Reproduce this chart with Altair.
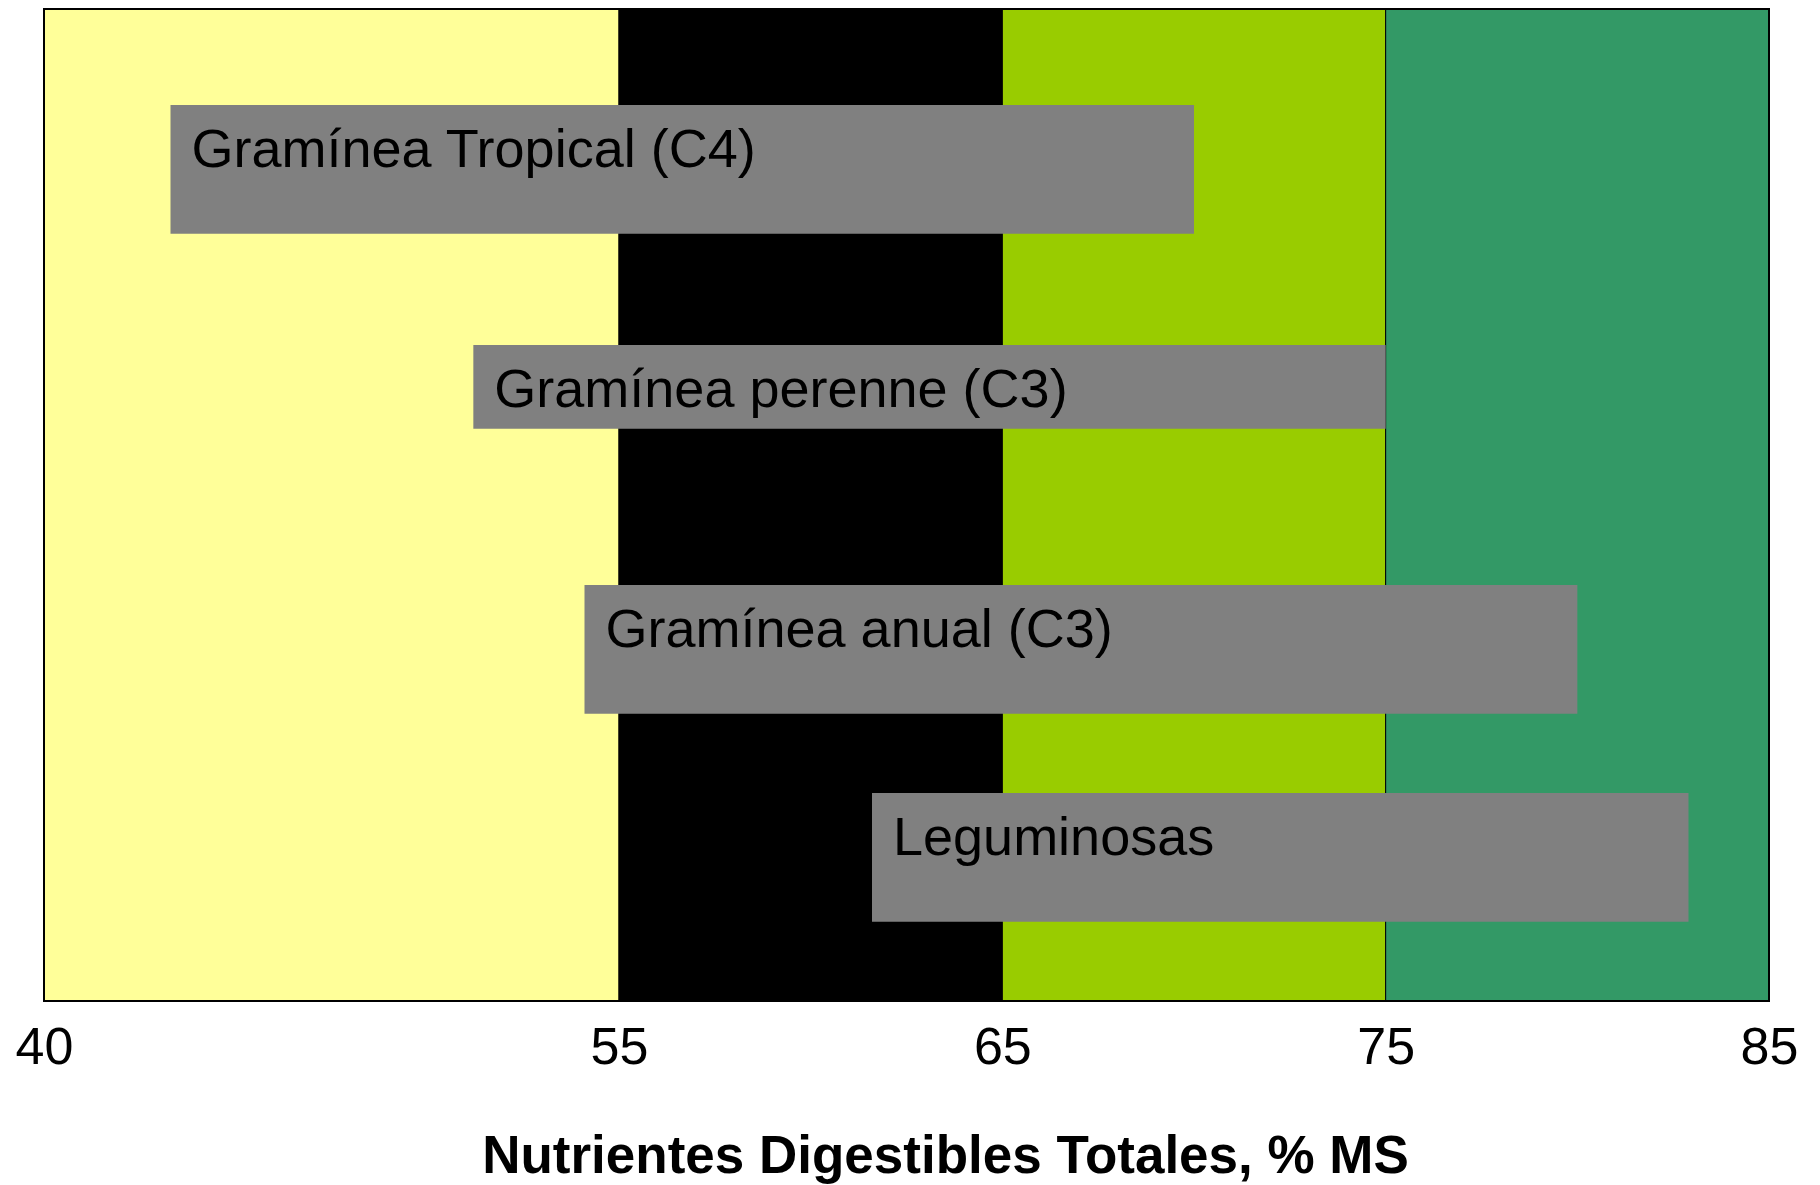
import altair as alt
import pandas as pd

# Background bands (NDT ranges)
band_start = [40, 55, 65, 75]
band_end = [55, 65, 75, 85]
band_color = ["#FFFF99", "#000000", "#99CC00", "#339966"]

# Forage ranges
forage = ["Gramínea Tropical (C4)", "Gramínea perenne (C3)", "Gramínea anual (C3)", "Leguminosas"]
ndt_min = [43.3, 51.2, 54.1, 61.6]
ndt_max = [70, 75, 80, 82.9]
row_top = [9.68, 33.87, 58.06, 79.03]
row_bottom = [22.65, 42.31, 71.04, 92.0]

tick_values = [40, 55, 65, 75, 85]

W, H = 1725, 992
FONT = "Liberation Sans"

bands = pd.DataFrame({"start": band_start, "end": band_end, "color": band_color})
bars = pd.DataFrame({"name": forage, "lo": ndt_min, "hi": ndt_max, "top": row_top, "bottom": row_bottom})

xscale = alt.Scale(domain=[40, 85], nice=False, zero=False)
yscale = alt.Scale(domain=[0, 100], nice=False, zero=False, reverse=True)

xaxis = alt.Axis(
    values=tick_values,
    title="Nutrientes Digestibles Totales, % MS",
    grid=False, domain=False, ticks=False, tickSize=0,
    labelFont=FONT, labelFontSize=52, labelColor="black",
    labelBaseline="alphabetic", labelPadding=62,
    labelFlush=False, labelOverlap=False,
    titleFont=FONT, titleFontSize=53, titleFontWeight="bold", titleColor="black",
    titleBaseline="alphabetic", titleAlign="center", titleX=901, titleY=171,
)

band_layer = alt.Chart(bands).mark_rect(stroke="black", strokeWidth=1).encode(
    x=alt.X("start:Q", scale=xscale, axis=xaxis),
    x2="end:Q",
    color=alt.Color("color:N", scale=None),
)

bar_layer = alt.Chart(bars).mark_rect(color="#808080").encode(
    x=alt.X("lo:Q", scale=xscale),
    x2="hi:Q",
    y=alt.Y("top:Q", scale=yscale, axis=None),
    y2="bottom:Q",
)

text_layer = alt.Chart(bars).mark_text(
    align="left", baseline="alphabetic", dx=21, dy=62,
    font=FONT, fontSize=54, color="black",
).encode(
    x=alt.X("lo:Q", scale=xscale),
    y=alt.Y("top:Q", scale=yscale, axis=None),
    text="name:N",
)

frame = pd.DataFrame({"a": [band_start[0]], "b": [band_end[-1]]})
frame_layer = alt.Chart(frame).mark_rect(fill=None, stroke="black", strokeWidth=2).encode(
    x=alt.X("a:Q", scale=xscale),
    x2="b:Q",
)

chart = alt.layer(band_layer, bar_layer, text_layer, frame_layer).properties(
    width=W, height=H,
    autosize=alt.AutoSizeParams(type="none"),
    padding={"left": 36, "top": 1, "right": 40, "bottom": 184},
).configure_view(stroke=None).configure(background="white")

chart.save("out.html", embed_options={"renderer": "svg", "actions": False})
